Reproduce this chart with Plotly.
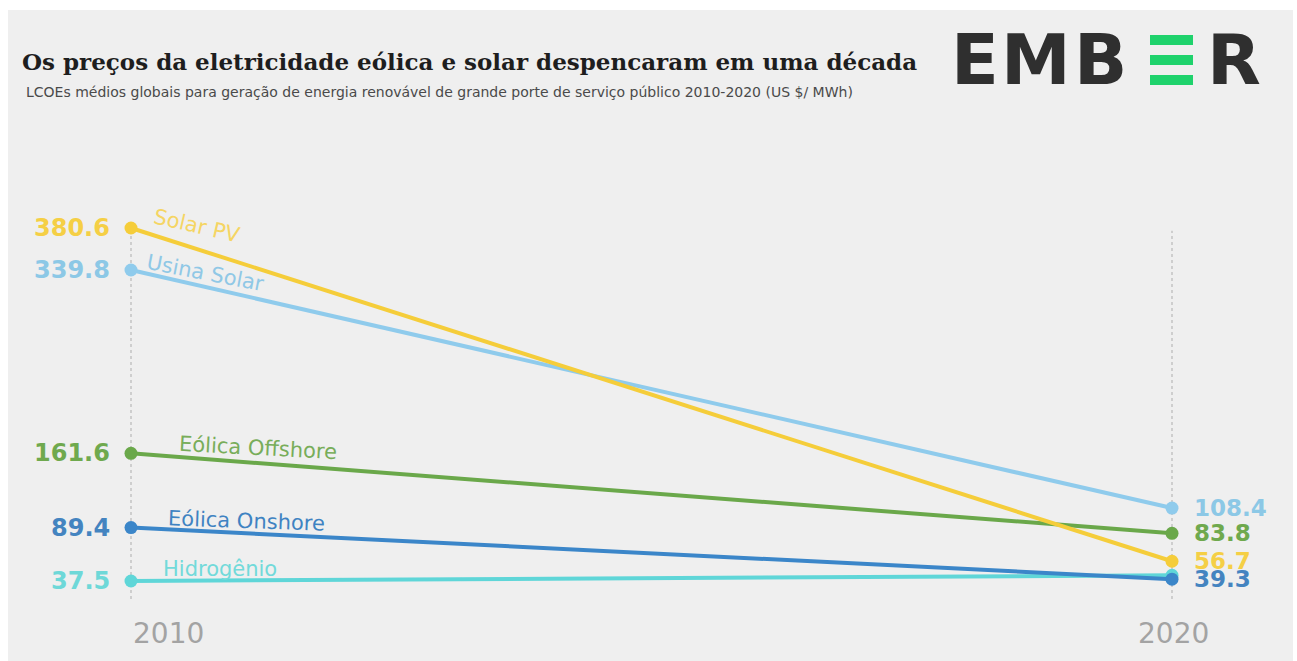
import plotly.graph_objects as go

# --- data -------------------------------------------------------------
years = [2010, 2020]
year_labels = ["2010", "2020"]

series_names = ["Hidrogênio", "Eólica Onshore", "Eólica Offshore", "Usina Solar", "Solar PV"]
hidrogenio = [37.5, 43.0]
eolica_onshore = [89.4, 39.3]
eolica_offshore = [161.6, 83.8]
usina_solar = [339.8, 108.4]
solar_pv = [380.6, 56.7]

values = [hidrogenio, eolica_onshore, eolica_offshore, usina_solar, solar_pv]
show_end_label = [False, True, True, True, True]

# --- styles -----------------------------------------------------------
line_colors = ["#5fd6d8", "#3b86c9", "#6aa84a", "#8fcbec", "#f5cd3a"]
value_colors = ["#6ed8d8", "#4484c0", "#6fa94e", "#8cc8e6", "#f5cf45"]
name_colors = ["#72dada", "#3f83c2", "#78ad5a", "#90c8e6", "#f5d563"]
# name label placement relative to the 2010 point (px), and rotation
name_offsets = [(89, 12, 0), (115, 7, 2), (127, 5, 3), (74, -3, 11), (66, 2, 13)]

W, H = 1297, 661
L, R, T, B = 40, 37, 200, 51
PW, PH = W - L - R, H - T - B


def px(x):
    return (x - L) / PW


def py(y):
    return (H - B - y) / PH


fig = go.Figure()

# grey card behind the chart
fig.add_shape(type="rect", xref="paper", yref="paper", layer="below",
              x0=px(8), x1=px(1293), y0=py(661), y1=py(10),
              fillcolor="#efefef", line=dict(width=0))

# dotted guide lines at each year
guide_top = [380.6, 378.0]
for yr, top in zip(years, guide_top):
    fig.add_shape(type="line", xref="x", yref="y", layer="below",
                  x0=yr, x1=yr, y0=20, y1=top,
                  line=dict(color="#c4c4c4", width=1.5, dash="dot"))

for name, vals, col in zip(series_names, values, line_colors):
    fig.add_trace(go.Scatter(
        x=years, y=vals, mode="lines+markers", name=name,
        line=dict(color=col, width=4),
        marker=dict(color=col, size=13),
        cliponaxis=False, hoverinfo="skip", showlegend=False))

ann = []
for name, vals, vcol, ncol, off, show in zip(series_names, values, value_colors,
                                              name_colors, name_offsets, show_end_label):
    ann.append(dict(x=years[0], y=vals[0], xref="x", yref="y", text=f"{vals[0]:.1f}",
                    xanchor="right", yanchor="middle", xshift=-19, showarrow=False,
                    font=dict(family="DejaVu Sans", size=24, color=vcol, weight="bold")))
    if show:
        ann.append(dict(x=years[1], y=vals[1], xref="x", yref="y", text=f"{vals[1]:.1f}",
                        xanchor="left", yanchor="middle", xshift=20, showarrow=False,
                        font=dict(family="DejaVu Sans", size=23, color=vcol, weight="bold")))
    dx, dy, ang = off
    ann.append(dict(x=years[0], y=vals[0], xref="x", yref="y", text=name,
                    xanchor="center", yanchor="middle", xshift=dx, yshift=dy,
                    textangle=ang, showarrow=False,
                    font=dict(family="DejaVu Sans", size=21, color=ncol)))

# the 39.3 label sits on top of 56.7
ann.sort(key=lambda a: 1 if a["text"] == "39.3" else 0)

# year labels along the bottom
year_shift = [37, 1]
for yr, lab, sh in zip(years, year_labels, year_shift):
    ann.append(dict(x=yr, y=py(633), xref="x", yref="paper", text=lab, xshift=sh,
                    xanchor="center", yanchor="middle", showarrow=False,
                    font=dict(family="DejaVu Sans", size=28, color="#a3a3a3")))

# title block
ann.append(dict(x=px(20), y=py(62), xref="paper", yref="paper", showarrow=False,
                xanchor="left", yanchor="middle",
                text="Os preços da eletricidade eólica e solar despencaram em uma década",
                font=dict(family="DejaVu Serif", size=23, color="#1e1e1e", weight="bold")))
ann.append(dict(x=px(24), y=py(92), xref="paper", yref="paper", showarrow=False,
                xanchor="left", yanchor="middle",
                text="LCOEs médios globais para geração de energia renovável de grande porte "
                     "de serviço público 2010-2020 (US $/ MWh)",
                font=dict(family="DejaVu Sans", size=14, color="#4a4a4a")))

# EMBER wordmark: letters plus green bars for the second E
for ch, cx in [("E", 975), ("M", 1036), ("B", 1100), ("R", 1234)]:
    ann.append(dict(x=px(cx), y=py(60), xref="paper", yref="paper", text=ch,
                    xanchor="center", yanchor="middle", showarrow=False,
                    font=dict(family="DejaVu Sans", size=70, color="#2f2f2f", weight="bold")))
for y0, y1 in [(35, 45), (55, 65), (75, 85)]:
    fig.add_shape(type="rect", xref="paper", yref="paper",
                  x0=px(1150), x1=px(1193), y0=py(y1), y1=py(y0),
                  fillcolor="#1fd26c", line=dict(width=0))

# map 2010 -> x=131px, 2020 -> x=1172px ; 37.5 -> y=581px, 380.6 -> y=228px
xppu = (1172 - 131) / 10
x_range = [2010 - (131 - L) / xppu, 2020 + (W - R - 1172) / xppu]
yppu = (581 - 228) / (380.6 - 37.5)
y_range = [37.5 - (H - B - 581) / yppu, 380.6 + (228 - T) / yppu]

fig.update_layout(
    width=W, height=H,
    margin=dict(l=L, r=R, t=T, b=B),
    paper_bgcolor="white", plot_bgcolor="rgba(0,0,0,0)",
    xaxis=dict(range=x_range, visible=False, fixedrange=True),
    yaxis=dict(range=y_range, visible=False, fixedrange=True),
    annotations=ann,
)

fig.write_html("out.html")
